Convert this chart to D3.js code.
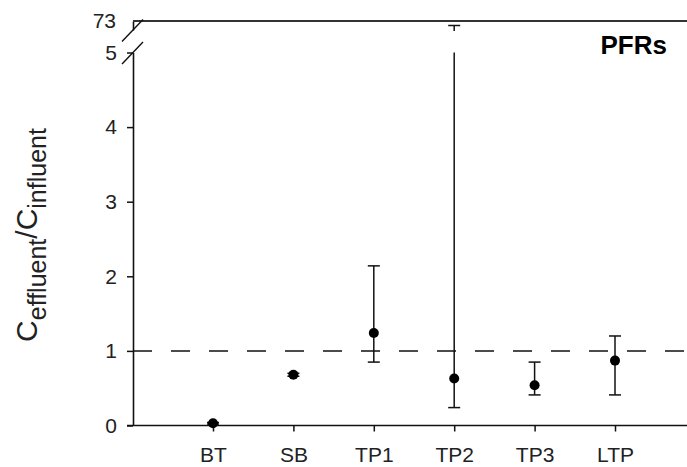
<!DOCTYPE html>
<html>
<head>
<meta charset="utf-8">
<script src="https://cdn.jsdelivr.net/npm/d3@7"></script>
<style>
  html, body { margin: 0; padding: 0; background: #fff; }
  svg { display: block; font-family: "Liberation Sans", Arial, sans-serif; }
</style>
</head>
<body>
<svg id="chart" width="687" height="467"></svg>
<script>
// Effluent / influent concentration ratio per treatment stage
const categories = ["BT", "SB", "TP1", "TP2", "TP3", "LTP"];
const ratioMean  = [0.03, 0.68, 1.24, 0.63, 0.54, 0.87];
const ratioLow   = [0.02, 0.66, 0.85, 0.24, 0.41, 0.41];
const ratioHigh  = [0.04, 0.70, 2.14, 71.5, 0.85, 1.20];
const lowerTicks = [0, 1, 2, 3, 4, 5];
const upperTicks = [73];
const referenceRatio = 1;
const panelLabel = "PFRs";

const W = 687, H = 467;
const x0 = 133;                 // left axis position
const svg = d3.select("#chart");

// x: one point per stage
const x = d3.scalePoint().domain(categories).range([213, 615]);

// y: broken axis, lower segment 0–5, upper segment near the top value
const yLow  = d3.scaleLinear().domain([0, 5]).range([425.5, 52.5]);
const yHigh = d3.scaleLinear().domain([70, 73]).range([30, 21]);
const breakLow = 5;

const ink = "#111";
const fmt = d3.format("d");

// dashed reference line at ratio = 1
svg.append("line")
  .attr("x1", x0).attr("x2", W)
  .attr("y1", yLow(referenceRatio)).attr("y2", yLow(referenceRatio))
  .attr("stroke", ink).attr("stroke-width", 1.5)
  .attr("stroke-dasharray", "19,19");

// lower y axis
const gLow = svg.append("g").attr("transform", `translate(${x0},0)`)
  .call(d3.axisLeft(yLow).tickValues(lowerTicks).tickFormat(fmt)
    .tickSize(6).tickSizeOuter(0).tickPadding(10));
// upper y axis
const gHigh = svg.append("g").attr("transform", `translate(${x0},0)`)
  .call(d3.axisLeft(yHigh).tickValues(upperTicks).tickFormat(fmt)
    .tickSize(0).tickSizeOuter(0).tickPadding(17));
[gLow, gHigh].forEach(g => {
  g.select(".domain").attr("stroke", ink).attr("stroke-width", 1.6);
  g.selectAll(".tick line").attr("stroke", ink).attr("stroke-width", 1.5);
  g.selectAll(".tick text").attr("font-size", 21).attr("fill", "#222")
    .attr("font-family", "Liberation Sans, Arial, sans-serif");
});

// top frame line at the upper limit
svg.append("line")
  .attr("x1", x0).attr("x2", W)
  .attr("y1", yHigh(73)).attr("y2", yHigh(73))
  .attr("stroke", "#333").attr("stroke-width", 2);

// axis break marks
[yHigh.range()[0], yLow(breakLow)].forEach(yb => {
  svg.append("line")
    .attr("x1", x0 - 11).attr("y1", yb + 11.5)
    .attr("x2", x0 + 10).attr("y2", yb - 10.5)
    .attr("stroke", ink).attr("stroke-width", 1.4);
});

// x axis
const gX = svg.append("g").attr("transform", `translate(0,${yLow(0)})`)
  .call(d3.axisBottom(x).tickSize(6).tickSizeOuter(0).tickPadding(16));
gX.select(".domain").remove();
gX.selectAll(".tick line").attr("stroke", ink).attr("stroke-width", 1.5);
gX.selectAll(".tick text").attr("font-size", 21).attr("fill", "#222")
  .attr("font-family", "Liberation Sans, Arial, sans-serif");
svg.append("line")
  .attr("x1", x0 - 6).attr("x2", W)
  .attr("y1", yLow(0)).attr("y2", yLow(0))
  .attr("stroke", ink).attr("stroke-width", 1.6);

// error bars (split across the axis break when needed)
const capHalf = 6;
const data = categories.map((c, i) => ({ c, m: ratioMean[i], lo: ratioLow[i], hi: ratioHigh[i] }));
const bars = svg.append("g");
data.forEach(d => {
  const cx = x(d.c);
  const seg = (ya, yb) => bars.append("line")
    .attr("x1", cx).attr("x2", cx).attr("y1", ya).attr("y2", yb)
    .attr("stroke", ink).attr("stroke-width", 1.5);
  const cap = yc => bars.append("line")
    .attr("x1", cx - capHalf).attr("x2", cx + capHalf).attr("y1", yc).attr("y2", yc)
    .attr("stroke", ink).attr("stroke-width", 1.5);
  if (d.hi > breakLow) {
    seg(yLow(d.lo), yLow(breakLow));
    seg(yHigh(d.hi), yHigh.range()[0] + 1);
    cap(yHigh(d.hi));
  } else {
    seg(yLow(d.lo), yLow(d.hi));
    cap(yLow(d.hi));
  }
  cap(yLow(d.lo));
});

// mean points
svg.append("g").selectAll("circle").data(data).join("circle")
  .attr("cx", d => x(d.c)).attr("cy", d => yLow(d.m))
  .attr("r", 5).attr("fill", "#000");

// panel label
svg.append("text")
  .attr("x", 667).attr("y", 54)
  .attr("text-anchor", "end")
  .attr("font-size", 26).attr("font-weight", "bold").attr("fill", "#000")
  .text(panelLabel);

// y axis title with subscripts
const title = svg.append("text")
  .attr("transform", "translate(37,235) rotate(-90)")
  .attr("text-anchor", "middle")
  .attr("font-size", 30).attr("fill", "#222");
title.append("tspan").text("C");
title.append("tspan").attr("font-size", 25).attr("dy", 9).text("effluent");
title.append("tspan").attr("dy", -9).text("/C");
title.append("tspan").attr("font-size", 25).attr("dy", 9).text("influent");
</script>
</body>
</html>
